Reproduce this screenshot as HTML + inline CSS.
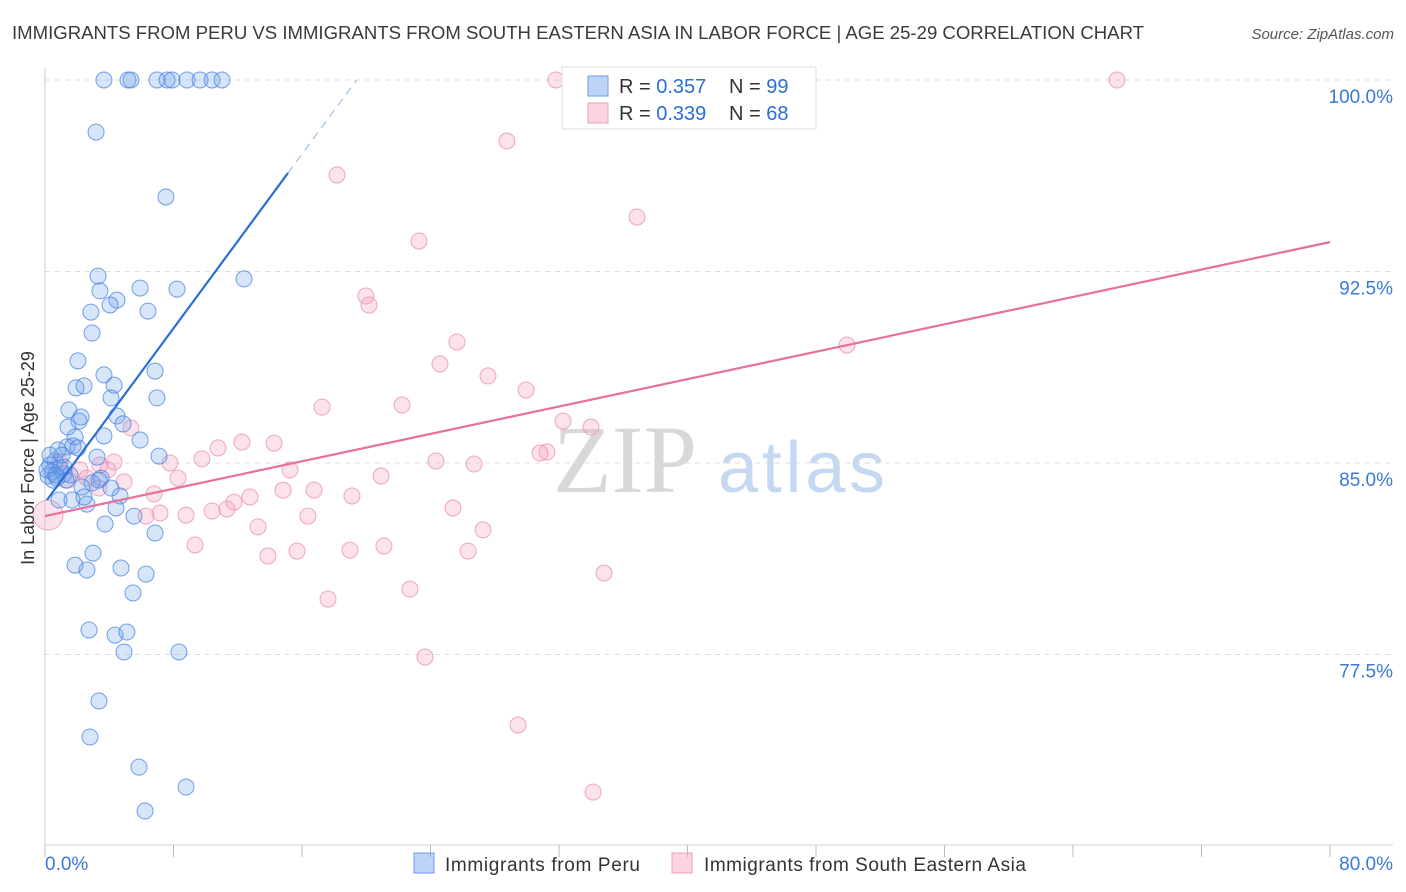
<!DOCTYPE html>
<html><head><meta charset="utf-8"><style>
body{margin:0;background:#fff;font-family:"Liberation Sans",sans-serif;}
svg{display:block}
</style></head><body>
<svg id="chart" width="1406" height="892">
<text x="12" y="39" font-size="18" fill="#3a3a3a" textLength="1132" lengthAdjust="spacingAndGlyphs">IMMIGRANTS FROM PERU VS IMMIGRANTS FROM SOUTH EASTERN ASIA IN LABOR FORCE | AGE 25-29 CORRELATION CHART</text>
<text x="1394" y="39" font-size="15" fill="#555" text-anchor="end" font-style="italic">Source: ZipAtlas.com</text>
<g>
<text x="553" y="492" font-size="96" fill="#d8d8d8" font-family="Liberation Serif,serif">ZIP</text>
<text x="718" y="492" font-size="72" fill="#c5d8f2" textLength="167">atlas</text>
</g>
<g id="grid"></g>
<g id="axes"></g>
<g id="pts"></g>
<g id="trend"></g>
<text transform="translate(34,458) rotate(-90)" font-size="18" fill="#333" text-anchor="middle">In Labor Force | Age 25-29</text>
<g>
<rect x="562" y="67" width="254" height="62" fill="#fff" stroke="#ddd"/>
<rect x="588" y="76" width="20" height="20" fill="rgba(110,160,235,0.45)" stroke="#6a9be8"/>
<text x="619" y="93" font-size="20" fill="#333">R = <tspan fill="#2a6fd6">0.357</tspan></text>
<text x="729" y="93" font-size="20" fill="#333">N = <tspan fill="#2a6fd6">99</tspan></text>
<rect x="588" y="103" width="20" height="20" fill="rgba(245,160,190,0.45)" stroke="#eaa0b8"/>
<text x="619" y="120" font-size="20" fill="#333">R = <tspan fill="#2a6fd6">0.339</tspan></text>
<text x="729" y="120" font-size="20" fill="#333">N = <tspan fill="#2a6fd6">68</tspan></text>
</g>
<g>
<rect x="414" y="853" width="20" height="20" fill="rgba(110,160,235,0.45)" stroke="#6a9be8"/>
<text x="445" y="871" font-size="19" fill="#333" textLength="195">Immigrants from Peru</text>
<rect x="672" y="853" width="20" height="20" fill="rgba(245,160,190,0.45)" stroke="#eaa0b8"/>
<text x="704" y="871" font-size="19" fill="#333" textLength="322">Immigrants from South Eastern Asia</text>
</g>
</svg>
<script>
const yTicks=[100,92.5,85,77.5];
const yTickLabels=["100.0%","92.5%","85.0%","77.5%"];
const xTickLabels=["0.0%","80.0%"];
const peruX=[3.67,5.17,5.35,6.97,7.6,7.91,8.84,9.65,10.4,11.02,3.18,7.53,12.39,3.3,3.42,4.48,5.92,8.22,4.05,2.86,6.41,2.93,2.05,3.67,4.3,1.93,2.43,6.85,4.11,6.97,1.49,2.24,2.12,4.48,4.86,1.43,1.87,3.67,5.92,1.37,0.81,1.74,7.1,3.24,0.62,0.31,0.93,0.44,1.18,0.19,0.75,3.49,2.93,2.3,4.67,0.87,1.68,2.61,4.42,5.54,3.74,6.85,2.99,1.87,2.61,4.73,6.29,5.48,2.74,4.36,5.1,4.92,8.34,3.36,2.8,5.85,8.78,6.23,0.31,0.12,0.5,1.06,1.56,1.31,2.43,3.36,4.11,1.18,0.68,2.05];
const peruY=[100,100,100,100,100,100,100,100,100,100,97.96,95.42,92.21,92.32,91.74,91.38,91.85,91.81,91.19,90.91,90.95,90.09,89.0,88.45,88.05,87.94,88.02,88.6,87.55,87.55,87.08,86.8,86.64,86.84,86.53,86.41,86.02,86.06,85.9,85.63,85.51,85.67,85.27,85.23,85.08,84.92,84.8,84.65,84.57,84.49,84.41,84.41,84.22,84.06,83.71,83.55,83.55,83.39,83.24,82.92,82.61,82.26,81.47,81.0,80.81,80.89,80.65,79.91,78.46,78.26,78.38,77.6,77.6,75.68,74.27,73.09,72.31,71.37,85.31,84.73,84.33,85.31,84.53,84.33,83.67,84.33,84.02,84.84,84.53,85.59];
const seaX=[31.8,66.74,28.76,18.18,36.86,23.28,19.98,20.17,25.65,49.93,24.59,27.58,29.95,17.25,22.23,32.25,33.99,5.35,12.26,14.26,10.77,31.25,30.82,9.77,24.34,26.71,7.78,4.3,15.25,20.92,8.28,4.92,3.36,14.82,16.75,6.79,12.76,19.11,11.77,10.4,11.33,8.78,7.16,6.29,16.37,25.4,13.26,27.27,9.34,13.88,15.69,18.99,21.1,26.34,34.8,22.72,17.62,23.66,29.45,34.12,0.19,0.93,2.18,2.61,3.42,3.92,1.43];
const seaY=[100,100,97.61,96.28,94.63,93.69,91.54,91.19,89.74,89.62,88.88,88.41,87.86,87.19,87.27,86.64,86.41,86.37,85.82,85.78,85.59,85.43,85.39,85.16,85.08,84.96,85.0,85.04,84.73,84.49,84.41,84.26,84.02,83.94,83.94,83.79,83.67,83.71,83.47,83.12,83.2,82.96,83.04,82.92,82.92,83.24,82.5,82.38,81.79,81.36,81.55,81.59,81.75,81.55,80.69,80.06,79.67,77.4,74.74,72.11,82.96,85.04,84.73,84.41,84.92,84.73,84.33];
const peruTrend=[0.12,83.55,15.13,96.36,19.4,100];
const seaTrend=[0,82.92,80,93.65];
const NS="http://www.w3.org/2000/svg";
const X=v=>45+v/80*1285, Y=v=>80+(100-v)/7.5*191.5;
function mk(tag,attrs,parent){const e=document.createElementNS(NS,tag);for(const k in attrs)e.setAttribute(k,attrs[k]);document.getElementById(parent).appendChild(e);return e;}
yTicks.forEach((t,i)=>{
 const l=mk('line',{x1:45,x2:1393,y1:Y(t),y2:Y(t),stroke:'#ddd','stroke-dasharray':'5,5'},'grid');
 
 
 const tx=mk('text',{x:1393,y:Y(t)+23,'font-size':19,fill:'#3b78d8','text-anchor':'end'},'grid');tx.textContent=yTickLabels[i];
 
 
});
const ax=mk('line',{x1:45,x2:1393,y1:845,y2:845,stroke:'#ccc'},'axes');


const ay=mk('line',{x1:45,x2:45,y1:68,y2:845,stroke:'#ccc'},'axes');


for(let i=0;i<=10;i++){const t=mk('line',{x1:X(i*8),x2:X(i*8),y1:845,y2:857,stroke:'#bbb'},'axes');
 
 }
[[0,'start',45],[80,'end',1393]].forEach((d,i)=>{const t=mk('text',{x:d[2],y:870,'font-size':19,fill:'#3b78d8','text-anchor':d[1]},'axes');t.textContent=xTickLabels[i];
 
 });
seaX.forEach((x,i)=>{const r=(i==60)?15:8;const c=mk('circle',{cx:X(x),cy:Y(seaY[i]),r:r,fill:'rgba(245,160,190,0.3)',stroke:'rgba(234,140,175,0.75)','stroke-width':1},'pts');
 
 });
peruX.forEach((x,i)=>{const c=mk('circle',{cx:X(x),cy:Y(peruY[i]),r:8,fill:'rgba(110,160,235,0.28)',stroke:'rgba(70,130,225,0.75)','stroke-width':1},'pts');
 
 });
const l1=mk('line',{x1:X(peruTrend[0]),y1:Y(peruTrend[1]),x2:X(peruTrend[2]),y2:Y(peruTrend[3]),stroke:'#2a6fd6','stroke-width':2.2},'trend');


const l2=mk('line',{x1:X(peruTrend[2]),y1:Y(peruTrend[3]),x2:X(peruTrend[4]),y2:Y(peruTrend[5]),stroke:'#8fb2e8','stroke-width':1,'stroke-dasharray':'8,6'},'trend');


const l3=mk('line',{x1:X(seaTrend[0]),y1:Y(seaTrend[1]),x2:X(seaTrend[2]),y2:Y(seaTrend[3]),stroke:'#e8709a','stroke-width':2.2},'trend');


</script>
</body></html>
